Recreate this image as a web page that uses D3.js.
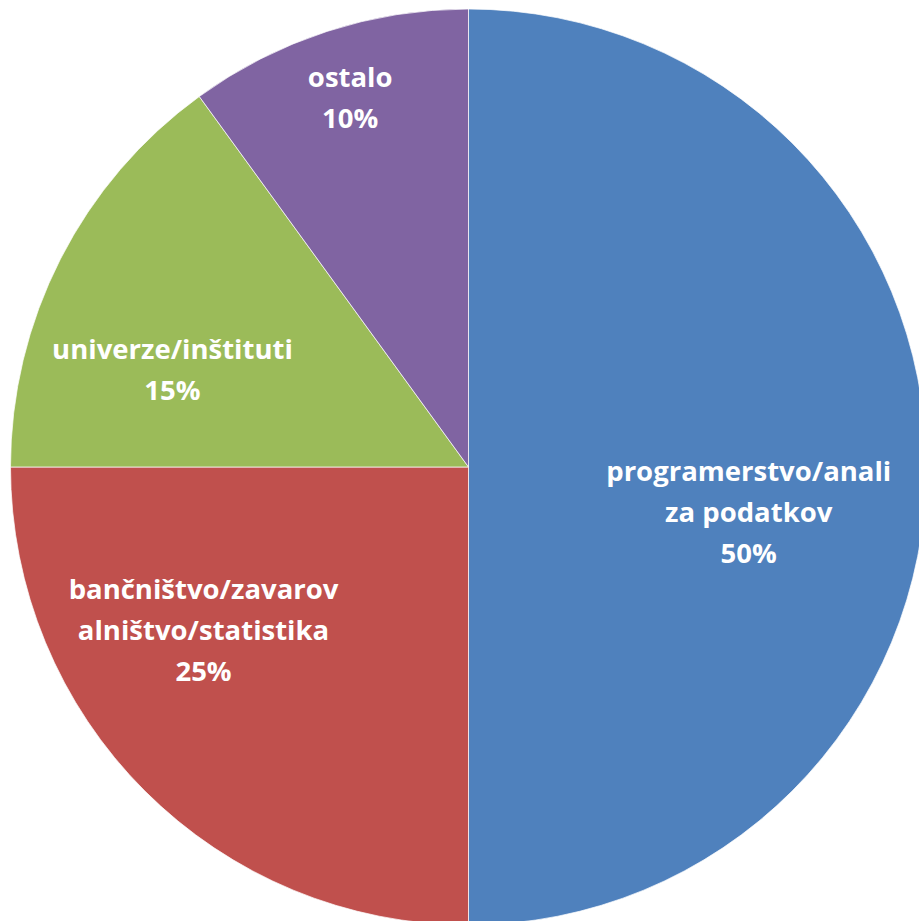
<!DOCTYPE html>
<html>
<head>
<meta charset="utf-8">
<script src="https://cdn.jsdelivr.net/npm/d3@7"></script>
<style>
  html, body { margin: 0; padding: 0; background: #fff; }
</style>
</head>
<body>
<div id="main"></div>
<script>
const W = 919;
const H = 921;

// data
var categories = ["programerstvo/anali za podatkov", "bančništvo/zavarov alništvo/statistika", "univerze/inštituti", "ostalo"];
var labelLines = [["programerstvo/anali", "za podatkov"], ["bančništvo/zavarov", "alništvo/statistika"], ["univerze/inštituti"], ["ostalo"]];
var values = [50, 25, 15, 10];
var colors = ["#4F81BD", "#C0504D", "#9BBB59", "#8064A2"];

// label placement: fraction of radius, plus angle nudge (deg) from slice middle
var labelRadius = [0.62, 0.68, 0.68, 0.845];
var labelNudge = [9.3, 13.3, -8.9, 0.2];

var cx = 468.5, cy = 467, R = 458;

var svg = d3.select("#main").append("svg")
    .attr("width", W)
    .attr("height", H);

var g = svg.append("g").attr("transform", "translate(" + cx + "," + cy + ")");

var pie = d3.pie().sort(null).value(function(d){ return d; });
var arc = d3.arc().innerRadius(0).outerRadius(R);
var arcs = pie(values);

g.selectAll("path.slice")
    .data(arcs)
    .enter()
    .append("path")
    .attr("class", "slice")
    .attr("d", arc)
    .style("fill", function(d, i){ return colors[i]; })
    .style("stroke", "#fff")
    .style("stroke-opacity", 0.7)
    .style("stroke-width", 1);

var lineH = 41;
var labels = g.selectAll("text.lbl")
    .data(arcs)
    .enter()
    .append("text")
    .attr("class", "lbl")
    .attr("text-anchor", "middle")
    .style("font-family", "'Open Sans', Lato, sans-serif")
    .style("font-weight", "700")
    .style("font-size", "27.5px")
    .style("fill", "#fff")
    .attr("transform", function(d, i){
        var a = (d.startAngle + d.endAngle) / 2 + labelNudge[i] * Math.PI / 180;
        var r = R * labelRadius[i];
        return "translate(" + (r * Math.sin(a)) + "," + (-r * Math.cos(a)) + ")";
    });

labels.each(function(d, i){
    var lines = labelLines[i].concat([values[i] + "%"]);
    var t = d3.select(this);
    var y0 = -(lines.length - 1) * lineH / 2 + 9;
    lines.forEach(function(l, j){
        t.append("tspan").attr("x", 0).attr("y", y0 + j * lineH).text(l);
    });
});
</script>
</body>
</html>
